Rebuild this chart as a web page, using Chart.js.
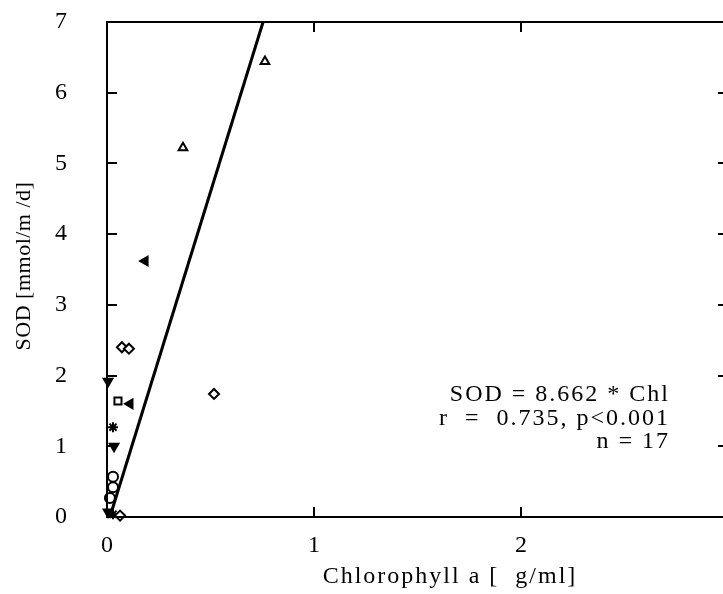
<!DOCTYPE html>
<html>
<head>
<meta charset="utf-8">
<script src="https://cdn.jsdelivr.net/npm/chart.js@4"></script>
<style>
  html, body { margin: 0; padding: 0; background: #fff; overflow: hidden; }
  #wrap { position: absolute; left: 0; top: 0; width: 740px; height: 594px; }
</style>
</head>
<body>
<div id="wrap"><canvas id="c" width="740" height="594"></canvas></div>
<script>
// ---- data ----
const chlX = [0.763, 0.367, 0.184, 0.072, 0.106, 0.005, 0.053, 0.111, 0.517, 0.029, 0.034, 0.029, 0.029, 0.014, 0.005, 0.029, 0.063];
const sodY = [6.44, 5.22, 3.62, 2.40, 2.38, 1.92, 1.64, 1.60, 1.74, 1.27, 1.00, 0.57, 0.42, 0.27, 0.07, 0.04, 0.02];
const fitX = [0.014, 0.754];
const fitY = [0, 7];
const xTicks = [0, 1, 2, 3];
const yTicks = [0, 1, 2, 3, 4, 5, 6, 7];
const equationLines = ['SOD = 8.662 * Chl', 'r  =  0.735, p<0.001', 'n = 17'];
const xTitle = 'Chlorophyll a [  g/ml]';
const yTitle = 'SOD [mmol/m /d]';

// marker styles (per point)
const markerStyle = ['triangle','triangle','triangle','rectRot','rectRot','triangle','rect','triangle','rectRot','star','triangle','circle','circle','circle','triangle','star','rectRot'];
const markerRot   = [0, 0, 270, 0, 0, 180, 0, 270, 0, 0, 180, 0, 0, 0, 180, 0, 0];
const markerFill  = ['#fff','#fff','#000','#fff','#fff','#000','#fff','#000','#fff','#fff','#000','#fff','#fff','#fff','#000','#fff','#fff'];

const FONT = "'Liberation Serif', 'DejaVu Serif', serif";

const framePlugin = {
  id: 'frame',
  beforeDraw(chart) {
    chart.ctx.letterSpacing = '0px';
  },
  afterDatasetsDraw(chart) {
    const ctx = chart.ctx;
    const a = chart.chartArea;
    const xs = chart.scales.x, ys = chart.scales.y;
    ctx.save();
    ctx.strokeStyle = '#000';
    ctx.lineWidth = 2;
    ctx.strokeRect(a.left, a.top, a.right - a.left, a.bottom - a.top);
    const L = 10;
    ctx.beginPath();
    xTicks.forEach(v => {
      if (v === xTicks[0] || v === xTicks[xTicks.length - 1]) return;
      const px = Math.round(xs.getPixelForValue(v));
      ctx.moveTo(px, a.bottom); ctx.lineTo(px, a.bottom - L);
      ctx.moveTo(px, a.top); ctx.lineTo(px, a.top + L);
    });
    yTicks.forEach(v => {
      if (v === yTicks[0] || v === yTicks[yTicks.length - 1]) return;
      const py = Math.round(ys.getPixelForValue(v));
      ctx.moveTo(a.left, py); ctx.lineTo(a.left + L, py);
      ctx.moveTo(a.right, py); ctx.lineTo(a.right - L, py);
    });
    ctx.stroke();

    // annotation text
    ctx.fillStyle = '#000';
    ctx.letterSpacing = '2px';
    ctx.font = '24px ' + FONT;
    ctx.textAlign = 'right';
    ctx.textBaseline = 'alphabetic';
    const baseX = 670;
    const baseYs = [401, 425, 448];
    equationLines.forEach((t, i) => ctx.fillText(t, baseX, baseYs[i]));

    // axis titles
    ctx.textAlign = 'center';
    ctx.textBaseline = 'middle';
    ctx.fillText(xTitle, 450, 577);
    ctx.save();
    ctx.translate(24, 266);
    ctx.rotate(-Math.PI / 2);
    ctx.letterSpacing = '0.5px';
    ctx.font = '22px ' + FONT;
    ctx.fillText(yTitle, 0, 0);
    ctx.restore();
    ctx.restore();
  }
};

const hiddenGrid = (len) => ({
  display: true, drawOnChartArea: false, drawTicks: true,
  tickLength: len, color: 'rgba(0,0,0,0)'
});

new Chart(document.getElementById('c'), {
  type: 'scatter',
  data: {
    datasets: [
      {
        type: 'line',
        data: fitX.map((x, i) => ({ x, y: fitY[i] })),
        borderColor: '#000',
        borderWidth: 3,
        pointRadius: 0,
        showLine: true,
        fill: false,
        clip: false
      },
      {
        data: chlX.map((x, i) => ({ x, y: sodY[i] })),
        pointStyle: markerStyle,
        rotation: markerRot,
        pointRadius: 5,
        pointBorderWidth: 2,
        pointBackgroundColor: markerFill,
        pointBorderColor: '#000',
        clip: false
      }
    ]
  },
  options: {
    responsive: false,
    animation: false,
    devicePixelRatio: 1,
    layout: { padding: { left: 0, right: 12, top: 22, bottom: 0 } },
    plugins: { legend: { display: false }, tooltip: { enabled: false } },
    scales: {
      x: {
        type: 'linear', min: 0, max: 3,
        afterBuildTicks(s) { s.ticks = xTicks.map(v => ({ value: v })); },
        afterFit(s) { s.height = 77; },
        grid: hiddenGrid(12),
        border: { display: false },
        ticks: { color: '#000', font: { family: FONT, size: 24 }, padding: 2, maxRotation: 0 }
      },
      y: {
        type: 'linear', min: 0, max: 7,
        afterBuildTicks(s) { s.ticks = yTicks.map(v => ({ value: v })); },
        afterFit(s) { s.width = 107; },
        grid: hiddenGrid(38),
        border: { display: false },
        ticks: { color: '#000', font: { family: FONT, size: 24 }, padding: 2 }
      }
    }
  },
  plugins: [framePlugin]
});
</script>
</body>
</html>
